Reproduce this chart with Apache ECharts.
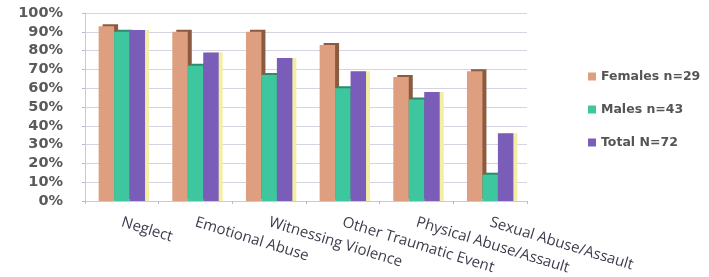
<!DOCTYPE html>
<html>
<head>
<meta charset="utf-8">
<script src="https://cdn.jsdelivr.net/npm/echarts@6/dist/echarts.min.js"></script>
<style>html,body{margin:0;padding:0;background:#fff}#c{width:709px;height:277px}</style>
</head>
<body>
<div id="c"></div>
<script>
const categories = ["Neglect", "Emotional Abuse", "Witnessing Violence", "Other Traumatic Event", "Physical Abuse/Assault", "Sexual Abuse/Assault"];
const females = [93, 90, 90, 83, 66, 69];
const males = [90, 72, 67, 60, 54, 14];
const total = [91, 79, 76, 69, 58, 36];
const seriesNames = ["Females n=29", "Males n=43", "Total N=72"];

const chart = echarts.init(document.getElementById('c'));
chart.setOption({
  animation: false,
  backgroundColor: '#fff',
  grid: { left: 85, right: 182, top: 13, bottom: 76 },
  legend: {
    orient: 'vertical', left: 583, top: 65,
    itemWidth: 8, itemHeight: 8, itemGap: 20,
    icon: 'rect',
    textStyle: { fontFamily: 'DejaVu Sans', fontWeight: 'bold', fontSize: 12.5, color: '#555' },
    data: seriesNames
  },
  xAxis: {
    type: 'category', data: categories,
    axisLine: { lineStyle: { color: '#c8c8e0' } },
    axisTick: { show: true, length: 3, lineStyle: { color: '#b8b8d8' } },
    axisLabel: { rotate: -17, margin: 21, interval: 0, fontFamily: 'Open Sans', fontSize: 15, color: '#3c3c4c' }
  },
  yAxis: {
    type: 'value', min: 0, max: 100, interval: 10,
    axisLine: { show: true, lineStyle: { color: '#c8c8e0' } },
    axisTick: { show: true, length: 3, lineStyle: { color: '#b8b8d8' } },
    splitLine: { lineStyle: { color: '#d4d4e4' } },
    axisLabel: { formatter: '{value}%', margin: 22, fontFamily: 'DejaVu Sans', fontWeight: 'bold', fontSize: 14.5, color: '#5a5a5a' }
  },
  series: [
    { name: seriesNames[0], type: 'bar', data: females, barGap: '0%', barCategoryGap: '37%',
      itemStyle: { color: '#de9f80', shadowColor: '#8c5a3e', shadowOffsetX: 4, shadowOffsetY: -2, shadowBlur: 0 } },
    { name: seriesNames[1], type: 'bar', data: males,
      itemStyle: { color: '#3ec79f', shadowColor: '#2a8c6c', shadowOffsetX: 3, shadowOffsetY: -2, shadowBlur: 0 } },
    { name: seriesNames[2], type: 'bar', data: total,
      itemStyle: { color: '#7a5db8', shadowColor: '#f4eea4', shadowOffsetX: 4, shadowOffsetY: 0, shadowBlur: 0 } }
  ]
});
</script>
</body>
</html>
